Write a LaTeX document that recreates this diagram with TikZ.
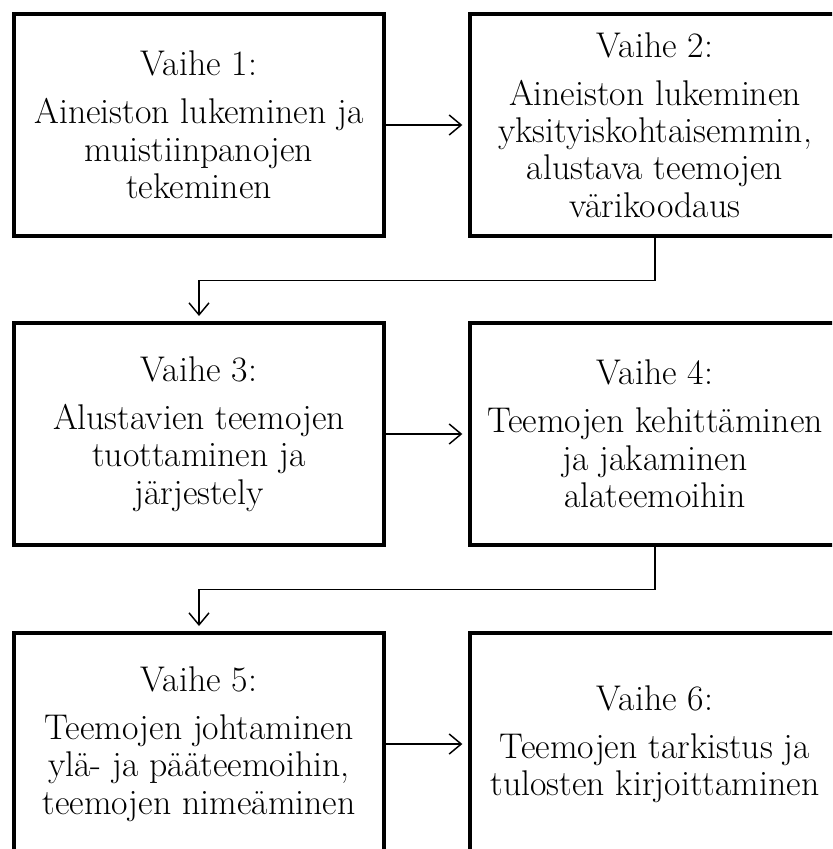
\documentclass[tikz,border=0pt]{standalone}
\usepackage{tikz}
\usetikzlibrary{arrows.meta}

\begin{document}
\begin{tikzpicture}[x=0.75pt,y=-0.75pt]
  \useasboundingbox (0,0) rectangle (832,849);
  \clip (0,0) rectangle (832,849);
  \tikzset{StepStyle/.style = {draw,
                               line width     = 3pt,
                               align          = center,
                               inner sep      = 0pt,
                               minimum width  = 278pt,
                               minimum height = 166pt,
                               font           = \fontsize{26.8}{28}\selectfont}}

  \tikzset{ArrowStyle/.style = {line width = 1.1pt,
                                -{Straight Barb[length=9pt,width=15pt]},
                                shorten >= 4pt}}

     \node[StepStyle] (S_1) at (199,125) {Vaihe 1:\\[8pt]Aineiston lukeminen ja\\muistiinpanojen\\tekeminen};
     \node[StepStyle] (S_2) at (655,125) {Vaihe 2:\\[8pt]Aineiston lukeminen\\yksityiskohtaisemmin,\\alustava teemojen\\värikoodaus};
     \node[StepStyle] (S_3) at (199,434) {Vaihe 3:\\[8pt]Alustavien teemojen\\tuottaminen ja\\järjestely};
     \node[StepStyle] (S_4) at (655,434) {Vaihe 4:\\[8pt]Teemojen kehittäminen\\ja jakaminen\\alateemoihin};
     \node[StepStyle] (S_5) at (199,744) {Vaihe 5:\\[8pt]Teemojen johtaminen\\ylä- ja pääteemoihin,\\teemojen nimeäminen};
     \node[StepStyle] (S_6) at (655,744) {Vaihe 6:\\[8pt]Teemojen tarkistus ja\\tulosten kirjoittaminen};

     \draw[ArrowStyle] (S_1) -- (S_2);
     \draw[ArrowStyle] (S_2.south) -- ++(0,43) -| (S_3.north);
     \draw[ArrowStyle] (S_3) -- (S_4);
     \draw[ArrowStyle] (S_4.south) -- ++(0,43) -| (S_5.north);
     \draw[ArrowStyle] (S_5) -- (S_6);
\end{tikzpicture}
\end{document}
